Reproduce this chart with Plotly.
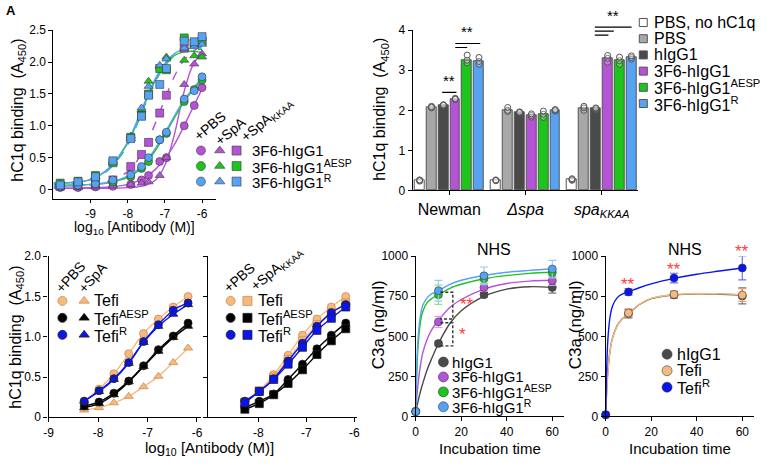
import plotly.graph_objects as go

W, H = 771, 466
FONT = "Liberation Sans, Arial, sans-serif"

PURPLE, GREEN, LBLUE = "#B553D6", "#1CC41C", "#55A3F2"
GRAY, DARK = "#A8A8A8", "#4A4A4A"
PEACH, BLUE, BLACK = "#F5BA80", "#0A14F0", "#000000"
RED = "#FF3B3B"

# ---------------- panel A: 3F6 variants, binding curves ----------------
a_conc = [-9.82, -9.34, -8.87, -8.40, -7.92, -7.63, -7.44, -7.14, -6.96, -6.48, -6.21, -6.0]
a_purple_pbs = [0.03, 0.03, 0.04, 0.05, 0.08, 0.15, 0.22, 0.44, 0.50, 1.00, 1.32, 1.60]
a_green_pbs = [0.08, 0.08, 0.10, 0.12, 0.20, 0.33, 0.44, 0.78, 0.88, 1.38, 1.57, 1.72]
a_blue_pbs = [0.05, 0.07, 0.09, 0.15, 0.23, 0.36, 0.50, 0.78, 0.90, 1.42, 1.55, 1.77]
a_purple_spa = [0.03, 0.03, 0.04, 0.06, 0.08, 0.10, 0.12, 0.22, 0.50, 1.65, 1.97, 2.13]
a_green_spa = [0.10, 0.13, 0.20, 0.42, 0.84, 1.25, 1.70, 1.93, 2.08, 2.03, 2.10, 2.08]
a_blue_spa = [0.10, 0.12, 0.20, 0.45, 0.80, 1.28, 1.62, 1.95, 2.05, 2.22, 2.25, 2.28]
a_purple_kkaa = [0.05, 0.06, 0.10, 0.15, 0.36, 0.55, 0.74, 1.20, 1.48, 2.22, 2.30, 2.33]
a_green_kkaa = [0.10, 0.13, 0.22, 0.42, 0.82, 1.16, 1.50, 1.90, 1.88, 2.38, 2.30, 2.33]
a_blue_kkaa = [0.07, 0.12, 0.20, 0.45, 0.80, 1.15, 1.48, 1.65, 1.90, 2.33, 2.32, 2.40]

# fitted curves
a_fit_conc = [-10, -9.5, -9, -8.5, -8, -7.75, -7.5, -7.25, -7, -6.75, -6.5, -6.25, -6]
a_fit_purple_pbs = [0.02, 0.02, 0.03, 0.04, 0.08, 0.13, 0.20, 0.32, 0.48, 0.70, 0.98, 1.28, 1.58]
a_fit_green_pbs = [0.07, 0.07, 0.08, 0.11, 0.19, 0.28, 0.42, 0.62, 0.86, 1.12, 1.36, 1.56, 1.72]
a_fit_blue_pbs = [0.05, 0.06, 0.08, 0.11, 0.21, 0.30, 0.45, 0.65, 0.89, 1.15, 1.39, 1.58, 1.75]
a_fit_purple_spa = [0.02, 0.02, 0.02, 0.02, 0.03, 0.04, 0.07, 0.15, 0.38, 0.85, 1.50, 1.95, 2.15]
a_fit_green_spa = [0.10, 0.11, 0.16, 0.33, 0.73, 1.05, 1.40, 1.72, 1.95, 2.10, 2.16, 2.17, 2.15]
a_fit_blue_spa = [0.10, 0.11, 0.16, 0.34, 0.75, 1.08, 1.43, 1.75, 1.98, 2.13, 2.20, 2.22, 2.22]
a_fit_purple_kkaa = [0.04, 0.05, 0.07, 0.13, 0.28, 0.45, 0.72, 1.05, 1.42, 1.77, 2.02, 2.17, 2.25]
a_fit_green_kkaa = [0.10, 0.11, 0.16, 0.32, 0.70, 1.02, 1.38, 1.70, 1.94, 2.10, 2.18, 2.20, 2.20]
a_fit_blue_kkaa = [0.08, 0.10, 0.15, 0.32, 0.72, 1.04, 1.40, 1.72, 1.96, 2.12, 2.20, 2.23, 2.24]

a_antibodies = ["3F6-hIgG1", "3F6-hIgG1<sup>AESP</sup>", "3F6-hIgG1<sup>R</sup>"]
a_conditions = ["+PBS", "+SpA", "+SpA<sub>KKAA</sub>"]

# ---------------- panel B: bars per strain ----------------
b_strains = ["Newman", "<i>Δspa</i>", "<i>spa<sub>KKAA</sub></i>"]
b_groups = ["PBS, no hC1q", "PBS", "hIgG1", "3F6-hIgG1", "3F6-hIgG1<sup>AESP</sup>", "3F6-hIgG1<sup>R</sup>"]
b_newman = [0.25, 2.08, 2.13, 2.28, 3.25, 3.22]
b_dspa = [0.25, 2.00, 1.95, 1.87, 1.90, 2.00]
b_kkaa = [0.27, 2.05, 2.04, 3.30, 3.25, 3.32]
b_newman_reps = [[0.23, 0.26, 0.25], [2.06, 2.10, 2.08], [2.12, 2.14, 2.13],
                 [2.27, 2.30, 2.28], [3.18, 3.25, 3.38], [3.15, 3.22, 3.32]]
b_dspa_reps = [[0.24, 0.26, 0.25], [1.97, 2.00, 2.07], [1.94, 1.96, 1.95],
               [1.83, 1.87, 1.91], [1.82, 1.90, 1.98], [1.98, 2.00, 2.02]]
b_kkaa_reps = [[0.25, 0.27, 0.29], [2.00, 2.06, 2.10], [2.01, 2.04, 2.06],
               [3.20, 3.30, 3.37], [3.15, 3.24, 3.33], [3.28, 3.32, 3.36]]

# ---------------- panel C: Tefi variants ----------------
c_conc = [-8.28, -7.98, -7.68, -7.38, -7.08, -6.78, -6.48, -6.18]
c_tefi_pbs = [0.20, 0.35, 0.54, 0.79, 1.04, 1.22, 1.37, 1.50]
c_tefi_spa = [0.09, 0.12, 0.18, 0.26, 0.38, 0.51, 0.68, 0.86]
c_aesp_pbs = [0.14, 0.19, 0.30, 0.45, 0.64, 0.84, 1.01, 1.17]
c_aesp_spa = [0.12, 0.17, 0.28, 0.44, 0.63, 0.82, 0.99, 1.13]
c_r_pbs = [0.20, 0.33, 0.48, 0.68, 0.94, 1.15, 1.33, 1.42]
c_r_spa = [0.20, 0.32, 0.47, 0.67, 0.93, 1.13, 1.28, 1.40]
c_tefi_pbs2 = [0.20, 0.33, 0.53, 0.77, 1.02, 1.22, 1.37, 1.50]
c_tefi_kkaa = [0.19, 0.33, 0.50, 0.72, 0.95, 1.15, 1.30, 1.42]
c_aesp_pbs2 = [0.12, 0.20, 0.29, 0.47, 0.66, 0.85, 1.02, 1.17]
c_aesp_kkaa = [0.10, 0.17, 0.28, 0.42, 0.59, 0.78, 0.95, 1.10]
c_r_pbs2 = [0.20, 0.32, 0.48, 0.70, 0.92, 1.13, 1.30, 1.40]
c_r_kkaa = [0.18, 0.32, 0.47, 0.66, 0.87, 1.08, 1.23, 1.37]
c_names = ["Tefi", "Tefi<sup>AESP</sup>", "Tefi<sup>R</sup>"]

# ---------------- panels D/E: C3a over time ----------------
t = [0, 10, 30, 60]
t_fit = [0, 0.5, 1, 2, 3, 5, 7, 10, 15, 20, 30, 40, 50, 60]
d_names = ["hIgG1", "3F6-hIgG1", "3F6-hIgG1<sup>AESP</sup>", "3F6-hIgG1<sup>R</sup>"]
d_higg1 = [30, 455, 760, 805]
d_3f6 = [30, 590, 805, 848]
d_aesp = [30, 760, 860, 898]
d_r = [30, 785, 878, 920]
d_higg1_err = [0, 10, 15, 35]
d_3f6_err = [0, 35, 25, 30]
d_aesp_err = [0, 60, 30, 20]
d_r_err = [0, 65, 55, 55]
d_fit_higg1 = [30, 60, 90, 150, 200, 290, 360, 455, 580, 660, 750, 795, 810, 805]
d_fit_3f6 = [30, 120, 200, 310, 390, 480, 540, 600, 680, 730, 795, 830, 845, 850]
d_fit_aesp = [30, 280, 430, 580, 650, 710, 735, 760, 800, 825, 860, 880, 893, 900]
d_fit_r = [30, 320, 480, 620, 690, 740, 765, 785, 825, 850, 880, 900, 912, 922]

e_names = ["hIgG1", "Tefi", "Tefi<sup>R</sup>"]
e_higg1 = [10, 640, 758, 752]
e_tefi = [10, 646, 762, 758]
e_r = [10, 777, 864, 927]
e_higg1_err = [0, 25, 20, 50]
e_tefi_err = [0, 25, 20, 40]
e_r_err = [0, 20, 30, 75]
e_fit_higg1 = [10, 180, 290, 420, 490, 565, 605, 640, 700, 735, 758, 765, 763, 758]
e_fit_tefi = [10, 175, 285, 415, 487, 562, 603, 642, 702, 737, 760, 767, 765, 760]
e_fit_r = [10, 330, 490, 630, 690, 740, 762, 778, 805, 828, 862, 888, 908, 927]


def dx(a, b):
    return [a / W, b / W]


def dy(top, bottom):
    return [1 - bottom / H, 1 - top / H]


def axis(**kw):
    base = dict(showline=True, linecolor="black", linewidth=1.3, ticks="outside",
                ticklen=4, tickwidth=1.2, tickcolor="black", showgrid=False,
                zeroline=False, tickfont=dict(size=12, color="black"), fixedrange=True)
    base.update(kw)
    return base


fig = go.Figure()
MK_EDGE = dict(color="rgba(50,50,50,0.7)", width=0.8)

# panel A
a_sets = [
    (PURPLE, [(a_purple_pbs, a_fit_purple_pbs), (a_purple_spa, a_fit_purple_spa), (a_purple_kkaa, a_fit_purple_kkaa)]),
    (GREEN, [(a_green_pbs, a_fit_green_pbs), (a_green_spa, a_fit_green_spa), (a_green_kkaa, a_fit_green_kkaa)]),
    (LBLUE, [(a_blue_pbs, a_fit_blue_pbs), (a_blue_spa, a_fit_blue_spa), (a_blue_kkaa, a_fit_blue_kkaa)]),
]
symbols = ["circle", "triangle-up", "square"]
for color, series in a_sets:
    for k, (pts, fit) in enumerate(series):
        fig.add_trace(go.Scatter(x=a_fit_conc, y=fit, mode="lines", line_shape="spline",
                                 line=dict(color=color, width=1.4, dash="dash" if k == 2 else "solid"),
                                 xaxis="x", yaxis="y", hoverinfo="skip"))
for color, series in a_sets:
    for k, (pts, fit) in enumerate(series):
        fig.add_trace(go.Scatter(x=a_conc, y=pts, mode="markers", cliponaxis=False,
                                 marker=dict(symbol=symbols[k], size=8, color=color, line=MK_EDGE),
                                 xaxis="x", yaxis="y"))

# panel B
BAR_STEP, GROUP_STEP = 1.0, 6.417
B_TOP, B_BOTTOM, B_MAX = 24, 189, 4.0
b_colors = ["white", GRAY, DARK, PURPLE, GREEN, LBLUE]
b_vals = [b_newman, b_dspa, b_kkaa]
b_reps = [b_newman_reps, b_dspa_reps, b_kkaa_reps]
for i, name in enumerate(b_groups):
    xs = [g * GROUP_STEP + i * BAR_STEP for g in range(3)]
    fig.add_trace(go.Bar(x=xs, y=[v[i] for v in b_vals], width=0.83, name=name,
                         marker=dict(color=b_colors[i], line=dict(color="#555", width=1)),
                         xaxis="x2", yaxis="y2"))
for g in range(3):
    for i in range(6):
        reps = b_reps[g][i]
        fig.add_trace(go.Scatter(x=[g * GROUP_STEP + i * BAR_STEP] * len(reps), y=reps,
                                 mode="markers", cliponaxis=False,
                                 marker=dict(size=6, color="rgba(255,255,255,0.25)",
                                             line=dict(color="#555", width=1)),
                                 xaxis="x2", yaxis="y2"))

# D/E share one vertical scale
T_TOP, T_BOTTOM, T_MAX = 257, 422, 1000.0


def paper_y(v, top, bottom, vmax):
    # value on a panel's y scale -> paper fraction (lets marks sit above the axis top)
    return 1 - (bottom - v * (bottom - top) / vmax) / H


# panel C
c_left = [(PEACH, c_tefi_pbs, c_tefi_spa), (BLACK, c_aesp_pbs, c_aesp_spa), (BLUE, c_r_pbs, c_r_spa)]
c_right = [(PEACH, c_tefi_pbs2, c_tefi_kkaa), (BLACK, c_aesp_pbs2, c_aesp_kkaa), (BLUE, c_r_pbs2, c_r_kkaa)]
for (panel, ax), sym in [((c_left, ("x3", "y3")), "triangle-up"), ((c_right, ("x4", "y4")), "square")]:
    for color, pbs, other in panel:
        edge = "#D08A50" if color == PEACH else "#222"
        for vals, s in [(pbs, "circle"), (other, sym)]:
            fig.add_trace(go.Scatter(x=c_conc, y=vals, mode="lines+markers", line_shape="spline",
                                     cliponaxis=False, line=dict(color=color, width=1.4),
                                     marker=dict(symbol=s, size=8, color=color,
                                                 line=dict(color=edge, width=0.8)),
                                     xaxis=ax[0], yaxis=ax[1]))

# panel D
d_sets = [(DARK, "#777", d_higg1, d_higg1_err, d_fit_higg1),
          (PURPLE, "#D9A0EA", d_3f6, d_3f6_err, d_fit_3f6),
          (GREEN, "#8FE08F", d_aesp, d_aesp_err, d_fit_aesp),
          (LBLUE, "#9CC8F5", d_r, d_r_err, d_fit_r)]
for color, ecol, vals, err, fit in d_sets:
    fig.add_trace(go.Scatter(x=t_fit, y=fit, mode="lines", line_shape="spline",
                             line=dict(color=color, width=1.4), xaxis="x5", yaxis="y5"))
for color, ecol, vals, err, fit in d_sets:
    fig.add_trace(go.Scatter(x=t, y=vals, mode="markers", cliponaxis=False,
                             error_y=dict(type="data", array=err, color=ecol, thickness=1.2, width=4),
                             marker=dict(size=8, color=color, line=MK_EDGE), xaxis="x5", yaxis="y5"))

# panel E
e_sets = [(DARK, "#777", e_higg1, e_higg1_err, e_fit_higg1),
          (PEACH, "#E0A070", e_tefi, e_tefi_err, e_fit_tefi),
          (BLUE, "#6A70F0", e_r, e_r_err, e_fit_r)]
for color, ecol, vals, err, fit in e_sets:
    fig.add_trace(go.Scatter(x=t_fit, y=fit, mode="lines", line_shape="spline",
                             line=dict(color=color, width=1.4), xaxis="x6", yaxis="y6"))
for color, ecol, vals, err, fit in e_sets:
    fig.add_trace(go.Scatter(x=t, y=vals, mode="markers", cliponaxis=False,
                             error_y=dict(type="data", array=err, color=ecol, thickness=1.2, width=4),
                             marker=dict(size=8, color=color, line=MK_EDGE), xaxis="x6", yaxis="y6"))


# legend glyphs, drawn on a full-page pixel overlay
def glyph(x, y, symbol, color, size=8, edge=MK_EDGE):
    fig.add_trace(go.Scatter(x=[x], y=[y], mode="markers", cliponaxis=False,
                             marker=dict(symbol=symbol, size=size, color=color, line=edge),
                             xaxis="x7", yaxis="y7"))


ann = []


def text(x, y, s, size=15, anchor="left", angle=0, color="black", yanchor="middle"):
    ann.append(dict(x=x / W, y=1 - y / H, xref="paper", yref="paper", text=s, showarrow=False,
                    xanchor=anchor, yanchor=yanchor, textangle=angle,
                    font=dict(size=size, color=color, family=FONT)))


for r, (color, _) in enumerate(a_sets):
    for k, xg in enumerate([198, 217, 234]):
        glyph(xg, 148 + r * 16, symbols[k], color, size=9)
    text(248, 148 + r * 16, a_antibodies[r])
for k, (cx, cy) in enumerate([(207, 123), (228, 128), (264, 116)]):
    text(cx, cy, a_conditions[k], size=14, anchor="center", angle=-40)

for i, name in enumerate(b_groups):
    glyph(645, 16 + i * 16.7, "square", b_colors[i], size=8, edge=dict(color="#555", width=1))
    text(654, 16 + i * 16.7, name, size=16)

c_cols = [(PEACH, "#D08A50"), (BLACK, "#222"), (BLUE, "#222")]
for r, (color, edge) in enumerate(c_cols):
    y = 303 + r * 17.5
    glyph(58, y, "circle", color, size=9, edge=dict(color=edge, width=0.8))
    glyph(80, y, "triangle-up", color, size=9, edge=dict(color=edge, width=0.8))
    text(88, y, c_names[r], size=16)
    glyph(228, y, "circle", color, size=9, edge=dict(color=edge, width=0.8))
    glyph(245, y, "square", color, size=9, edge=dict(color=edge, width=0.8))
    text(254, y, c_names[r], size=16)
text(66, 278, "+PBS", size=14, anchor="center", angle=-48)
text(88, 279, "+SpA", size=14, anchor="center", angle=-48)
text(236, 279, "+PBS", size=14, anchor="center", angle=-42)
text(274, 270, "+SpA<sub>KKAA</sub>", size=14, anchor="center", angle=-40)

for r, (color, *_) in enumerate(d_sets):
    glyph(443, 366 + r * 15.4, "circle", color, size=10)
    text(450, 366 + r * 15.4, d_names[r], size=15)
for r, (color, *_) in enumerate(e_sets):
    glyph(669, 358 + r * 17, "circle", color, size=10)
    text(677, 358 + r * 17, e_names[r], size=16)

# titles
text(131, 228, "log<sub>10</sub> [Antibody (M)]", size=14, anchor="center")
text(207, 455, "log<sub>10</sub> [Antibody (M)]", anchor="center")
text(490, 455, "Incubation time", size=15, anchor="center")
text(682, 455, "Incubation time", size=15, anchor="center")
text(494, 250, "NHS", size=16, anchor="center")
text(687, 250, "NHS", size=16, anchor="center")
text(14, 106, "hC1q binding  (A<sub>450</sub>)", size=16, anchor="center", angle=-90)
text(380, 106, "hC1q binding  (A<sub>450</sub>)", size=16, anchor="center", angle=-90)
text(12, 340, "hC1q binding  (A<sub>450</sub>)", size=16, anchor="center", angle=-90)
text(377, 328, "C3a (ng/ml)", size=17, anchor="center", angle=-90)
text(576, 328, "C3a (ng/ml)", size=17, anchor="center", angle=-90)
text(6, 4, "<b>A</b>", size=13, anchor="center")

# significance marks
sig = dict(size=15, color="black", family=FONT)
red = dict(size=17, color=RED, family=FONT)
ann += [
    dict(x=2.5, y=2.48, xref="x2", yref="y2", text="**", showarrow=False, yanchor="bottom", font=sig),
    dict(x=4.0, y=3.7, xref="x2", yref="y2", text="**", showarrow=False, yanchor="bottom", font=sig),
    dict(x=16.25, y=paper_y(4.1, B_TOP, B_BOTTOM, B_MAX), xref="x2", yref="paper", text="**",
         showarrow=False, yanchor="bottom", font=sig),
    dict(x=22.5, y=700, xref="x5", yref="y5", text="**", showarrow=False, font=red),
    dict(x=20.5, y=510, xref="x5", yref="y5", text="*", showarrow=False, font=red),
]
for tx, ty, te in zip(t[1:], e_r[1:], e_r_err[1:]):
    ann.append(dict(x=tx, y=paper_y(ty + te + 25, T_TOP, T_BOTTOM, T_MAX), xref="x6", yref="paper",
                    text="**", showarrow=False, yanchor="middle", font=red))

line = dict(color="black", width=1.2)
bracket = dict(color="#333", width=1.4, dash="3px,2px")
shapes = [
    dict(type="line", xref="x2", yref="y2", x0=1.9, x1=3.1, y0=2.45, y1=2.45, line=line),
    dict(type="line", xref="x2", yref="y2", x0=3.0, x1=5.1, y0=3.67, y1=3.67, line=line),
    dict(type="line", xref="x2", yref="y2", x0=3.0, x1=4.0, y0=3.57, y1=3.57, line=line),
    dict(type="path", xref="x5", yref="y5", path="M 10.8,775 L 16.3,775 L 16.3,608 L 10.8,608",
         line=bracket),
    dict(type="path", xref="x5", yref="y5", path="M 10.8,585 L 16.3,585 L 16.3,440 L 10.8,440",
         line=bracket),
]
for x1, v in [(17.85, 4.08), (16.35, 3.98), (15.9, 3.88)]:
    yv = paper_y(v, B_TOP, B_BOTTOM, B_MAX)
    shapes.append(dict(type="line", xref="x2", yref="paper", x0=14.75, x1=x1, y0=yv, y1=yv, line=line))

fig.update_layout(
    width=W, height=H, autosize=False, showlegend=False,
    margin=dict(l=0, r=0, t=0, b=0),
    paper_bgcolor="white", plot_bgcolor="rgba(0,0,0,0)",
    font=dict(family=FONT, color="black"),
    bargap=0,
    xaxis=axis(domain=dx(49, 213), range=[-10, -5.63], tickvals=[-9, -8, -7, -6],
               ticktext=["-9", "-8", "-7", "-6"], ticklen=3, anchor="y"),
    yaxis=axis(domain=dy(24, 198), range=[-0.15, 2.5], tickvals=[0, 0.5, 1, 1.5, 2, 2.5],
               ticktext=["0", "0.5", "1.0", "1.5", "2.0", "2.5"], anchor="x"),
    xaxis2=axis(domain=dx(412, 640), range=[-0.583, 18.42],
                tickvals=[g * GROUP_STEP + 2.5 for g in range(3)], ticktext=b_strains,
                tickfont=dict(size=16, color="black"), anchor="y2"),
    yaxis2=axis(domain=dy(B_TOP, B_BOTTOM), range=[0, B_MAX], tickvals=[0, 1, 2, 3, 4], anchor="x2"),
    xaxis3=axis(domain=dx(44, 198), range=[-9, -5.92], tickvals=[-9, -8, -7, -6],
                ticktext=["-9", "-8", "-7", "-6"], anchor="y3"),
    yaxis3=axis(domain=dy(257, 423), range=[0, 2], tickvals=[0, 0.5, 1, 1.5, 2],
                ticktext=["0", "0.5", "1.0", "1.5", "2.0"], anchor="x3"),
    xaxis4=axis(domain=dx(205, 355.5), range=[-9.05, -5.95], tickvals=[-8, -7, -6],
                ticktext=["-8", "-7", "-6"], anchor="y4"),
    yaxis4=axis(domain=dy(257, 423), range=[0, 2], tickvals=[0, 0.5, 1, 1.5, 2],
                showticklabels=False, anchor="x4"),
    xaxis5=axis(domain=dx(415, 565), range=[0, 65.2], tickvals=[0, 20, 40, 60], anchor="y5"),
    yaxis5=axis(domain=dy(T_TOP, T_BOTTOM), range=[0, T_MAX], tickvals=[0, 250, 500, 750, 1000], anchor="x5"),
    xaxis6=axis(domain=dx(607, 757), range=[0, 65.2], tickvals=[0, 20, 40, 60], anchor="y6"),
    yaxis6=axis(domain=dy(T_TOP, T_BOTTOM), range=[0, T_MAX], tickvals=[0, 250, 500, 750, 1000], anchor="x6"),
    xaxis7=dict(domain=[0, 1], range=[0, W], visible=False, fixedrange=True, anchor="y7"),
    yaxis7=dict(domain=[0, 1], range=[H, 0], visible=False, fixedrange=True, anchor="x7"),
    annotations=ann,
    shapes=shapes,
)

fig.write_html("out.html", config={"displayModeBar": False},
               post_script="document.body.style.margin='0';document.body.style.padding='0';")
